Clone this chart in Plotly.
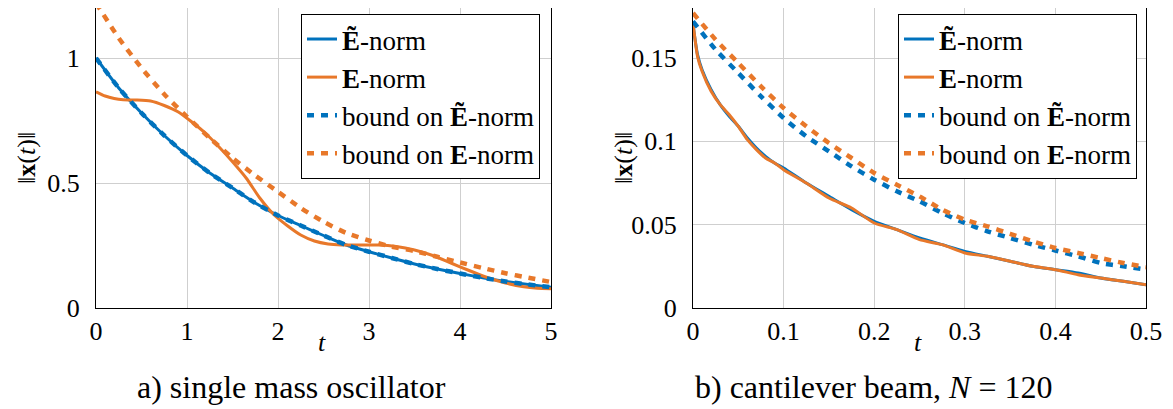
import plotly.graph_objects as go

# ---------------- data: a) single mass oscillator ----------------
t_a_blue = [0, 0.25, 0.5, 0.75, 1.0, 1.25, 1.5, 1.75, 2.0, 2.25, 2.5, 2.75, 3.0,
            3.25, 3.5, 3.75, 4.0, 4.25, 4.5, 4.75, 5.0]
etilde_a = [1.00, 0.88, 0.78, 0.69, 0.61, 0.54, 0.48, 0.42, 0.37, 0.33, 0.29, 0.252,
            0.225, 0.20, 0.176, 0.156, 0.138, 0.121, 0.106, 0.094, 0.083]
bound_etilde_a = [1.00, 0.88, 0.78, 0.69, 0.61, 0.54, 0.48, 0.42, 0.37, 0.33, 0.29, 0.252,
                  0.225, 0.20, 0.176, 0.156, 0.138, 0.121, 0.106, 0.094, 0.083]

t_a_orange = [0, 0.1, 0.2, 0.3, 0.45, 0.6, 0.75, 0.9, 1.05, 1.2, 1.35, 1.5, 1.65, 1.8,
              1.95, 2.1, 2.25, 2.4, 2.55, 2.7, 2.9, 3.1, 3.3, 3.5, 3.7, 3.9, 4.1, 4.3,
              4.5, 4.7, 4.85, 5.0]
e_a = [0.865, 0.848, 0.838, 0.833, 0.832, 0.828, 0.81, 0.785, 0.745, 0.70, 0.645, 0.585,
       0.52, 0.44, 0.375, 0.33, 0.292, 0.268, 0.256, 0.252, 0.252, 0.252, 0.246, 0.232,
       0.21, 0.18, 0.15, 0.122, 0.10, 0.085, 0.079, 0.077]

t_a_bound = [0, 0.25, 0.5, 0.75, 1.0, 1.25, 1.5, 1.75, 2.0, 2.25, 2.5, 2.75, 3.0,
             3.25, 3.5, 3.75, 4.0, 4.25, 4.5, 4.75, 5.0]
bound_e_a = [1.22, 1.08, 0.96, 0.855, 0.765, 0.68, 0.60, 0.53, 0.465, 0.40, 0.345, 0.30,
             0.27, 0.245, 0.228, 0.205, 0.182, 0.16, 0.139, 0.121, 0.104]

# ---------------- data: b) cantilever beam ----------------
t_b = [0, 0.005, 0.01, 0.02, 0.03, 0.04, 0.05, 0.06, 0.07, 0.08, 0.09, 0.1, 0.125,
       0.15, 0.175, 0.2, 0.225, 0.25, 0.275, 0.3, 0.325, 0.35, 0.375, 0.4, 0.425,
       0.45, 0.475, 0.5]
etilde_b = [0.170, 0.152, 0.143, 0.131, 0.122, 0.115, 0.109, 0.102, 0.096, 0.091,
            0.087, 0.084, 0.075, 0.067, 0.059, 0.052, 0.047, 0.042, 0.038, 0.034,
            0.031, 0.028, 0.025, 0.023, 0.021, 0.018, 0.016, 0.014]
e_b = [0.171, 0.151, 0.142, 0.130, 0.122, 0.116, 0.109, 0.101, 0.095, 0.090,
       0.087, 0.083, 0.075, 0.066, 0.060, 0.051, 0.047, 0.041, 0.038, 0.033,
       0.031, 0.028, 0.025, 0.023, 0.020, 0.018, 0.016, 0.014]

t_b_bound = [0, 0.025, 0.05, 0.075, 0.1, 0.125, 0.15, 0.175, 0.2, 0.225, 0.25, 0.275,
             0.3, 0.325, 0.35, 0.375, 0.4, 0.425, 0.45, 0.475, 0.5]
bound_etilde_b = [0.172, 0.155, 0.141, 0.127, 0.114, 0.103, 0.094, 0.085, 0.077, 0.070,
                  0.064, 0.057, 0.051, 0.046, 0.042, 0.038, 0.0345, 0.031, 0.027,
                  0.025, 0.023]
bound_e_b = [0.177, 0.161, 0.147, 0.133, 0.120, 0.109, 0.099, 0.090, 0.081, 0.074,
             0.067, 0.059, 0.053, 0.049, 0.0445, 0.040, 0.036, 0.033, 0.030, 0.027,
             0.0245]

# ticks / labels
xticks_a = [0, 1, 2, 3, 4, 5]
xticktext_a = ["0", "1", "2", "3", "4", "5"]
yticks_a = [0, 0.5, 1]
yticktext_a = ["0", "0.5", "1"]
xticks_b = [0, 0.1, 0.2, 0.3, 0.4, 0.5]
xticktext_b = ["0", "0.1", "0.2", "0.3", "0.4", "0.5"]
yticks_b = [0, 0.05, 0.1, 0.15]
yticktext_b = ["0", "0.05", "0.1", "0.15"]

names = ["<b>Ẽ</b>-norm", "<b>E</b>-norm", "bound on <b>Ẽ</b>-norm", "bound on <b>E</b>-norm"]

BLUE = "#0072BD"
ORANGE = "#E8782A"
FONT = "Liberation Serif"
OFF = 8                      # page body margin
W, H = 1173 - OFF, 409 - OFF
SOLID_W = 3
DASH_W = 4.5
DASH = "7px,7px"
TICK_SIZE = 26
LEG_SIZE = 27
TITLE_SIZE = 26
CAP_SIZE = 32

fig = go.Figure()

def add_set(xa, ya, legend, series):
    for i, (x, y, color, dash, width) in enumerate(series):
        fig.add_trace(go.Scatter(
            x=x, y=y, mode="lines", name=names[i], legend=legend,
            legendgroup=f"{legend}{i}",
            line=dict(color=color, width=width, dash=dash, shape="spline", smoothing=0.6),
            xaxis=xa, yaxis=ya, showlegend=True))

add_set("x", "y", "legend", [
    (t_a_blue, etilde_a, BLUE, "solid", SOLID_W),
    (t_a_orange, e_a, ORANGE, "solid", SOLID_W),
    (t_a_blue, bound_etilde_a, BLUE, DASH, DASH_W),
    (t_a_bound, bound_e_a, ORANGE, DASH, DASH_W),
])
add_set("x2", "y2", "legend2", [
    (t_b, etilde_b, BLUE, "solid", SOLID_W),
    (t_b, e_b, ORANGE, "solid", SOLID_W),
    (t_b_bound, bound_etilde_b, BLUE, DASH, DASH_W),
    (t_b_bound, bound_e_b, ORANGE, DASH, DASH_W),
])

# geometry (reference pixels)
top, bottom = 6, 308
ax_a = (96, 551)
ax_b = (693, 1146)

def px(p):
    return (p - OFF) / W

def py(p):
    return (bottom - p) / (bottom - top)

tickfont = dict(family=FONT, size=TICK_SIZE, color="black")
axis_common = dict(showgrid=True, gridcolor="#cfcfcf", gridwidth=1, zeroline=False,
                   showline=True, linecolor="black", linewidth=1, mirror=True,
                   ticks="", tickfont=tickfont, automargin=False)

legend_font = dict(family=FONT, size=LEG_SIZE, color="black")
fig.update_layout(
    width=W, height=H,
    margin=dict(l=0, r=0, t=0, b=409 - bottom),
    paper_bgcolor="white", plot_bgcolor="white",
    font=dict(family=FONT, size=TICK_SIZE, color="black"),
    xaxis=dict(domain=[px(ax_a[0]), px(ax_a[1])], range=[0, 5], tickvals=xticks_a,
               ticktext=xticktext_a, anchor="y", ticklabelstandoff=0, **axis_common),
    yaxis=dict(domain=[0, 1], range=[0, 1.2], tickvals=yticks_a, ticktext=yticktext_a,
               anchor="x", ticklabelstandoff=10, **axis_common),
    xaxis2=dict(domain=[px(ax_b[0]), px(ax_b[1])], range=[0, 0.5], tickvals=xticks_b,
                ticktext=xticktext_b, anchor="y2", ticklabelstandoff=0, **axis_common),
    yaxis2=dict(domain=[0, 1], range=[0, 0.18], tickvals=yticks_b, ticktext=yticktext_b,
                anchor="x2", ticklabelstandoff=10, **axis_common),
    legend=dict(x=px(540), xanchor="right", y=py(12), yanchor="top", xref="paper",
                bgcolor="white", bordercolor="black", borderwidth=1, font=legend_font,
                tracegroupgap=0, traceorder="grouped"),
    legend2=dict(x=px(1137), xanchor="right", y=py(12), yanchor="top", xref="paper",
                 bgcolor="white", bordercolor="black", borderwidth=1, font=legend_font,
                 tracegroupgap=0, traceorder="grouped"),
    showlegend=True,
)

ann = [
    dict(text="‖<b>x</b>(<i>t</i>)‖", x=px(26), y=py(157), textangle=-90, size=TITLE_SIZE),
    dict(text="‖<b>x</b>(<i>t</i>)‖", x=px(623), y=py(157), textangle=-90, size=TITLE_SIZE),
    dict(text="<i>t</i>", x=px(322), y=py(343), textangle=0, size=TITLE_SIZE),
    dict(text="<i>t</i>", x=px(918), y=py(343), textangle=0, size=TITLE_SIZE),
    dict(text="a) single mass oscillator", x=px(291), y=py(388), textangle=0, size=CAP_SIZE),
    dict(text="b) cantilever beam, <i>N</i> = 120", x=px(873), y=py(388), textangle=0,
         size=CAP_SIZE),
]
for a in ann:
    fig.add_annotation(text=a["text"], x=a["x"], y=a["y"], xref="paper", yref="paper",
                       xanchor="center", yanchor="middle", showarrow=False,
                       textangle=a["textangle"],
                       font=dict(family=FONT, size=a["size"], color="black"))

fig.write_html("out.html")
